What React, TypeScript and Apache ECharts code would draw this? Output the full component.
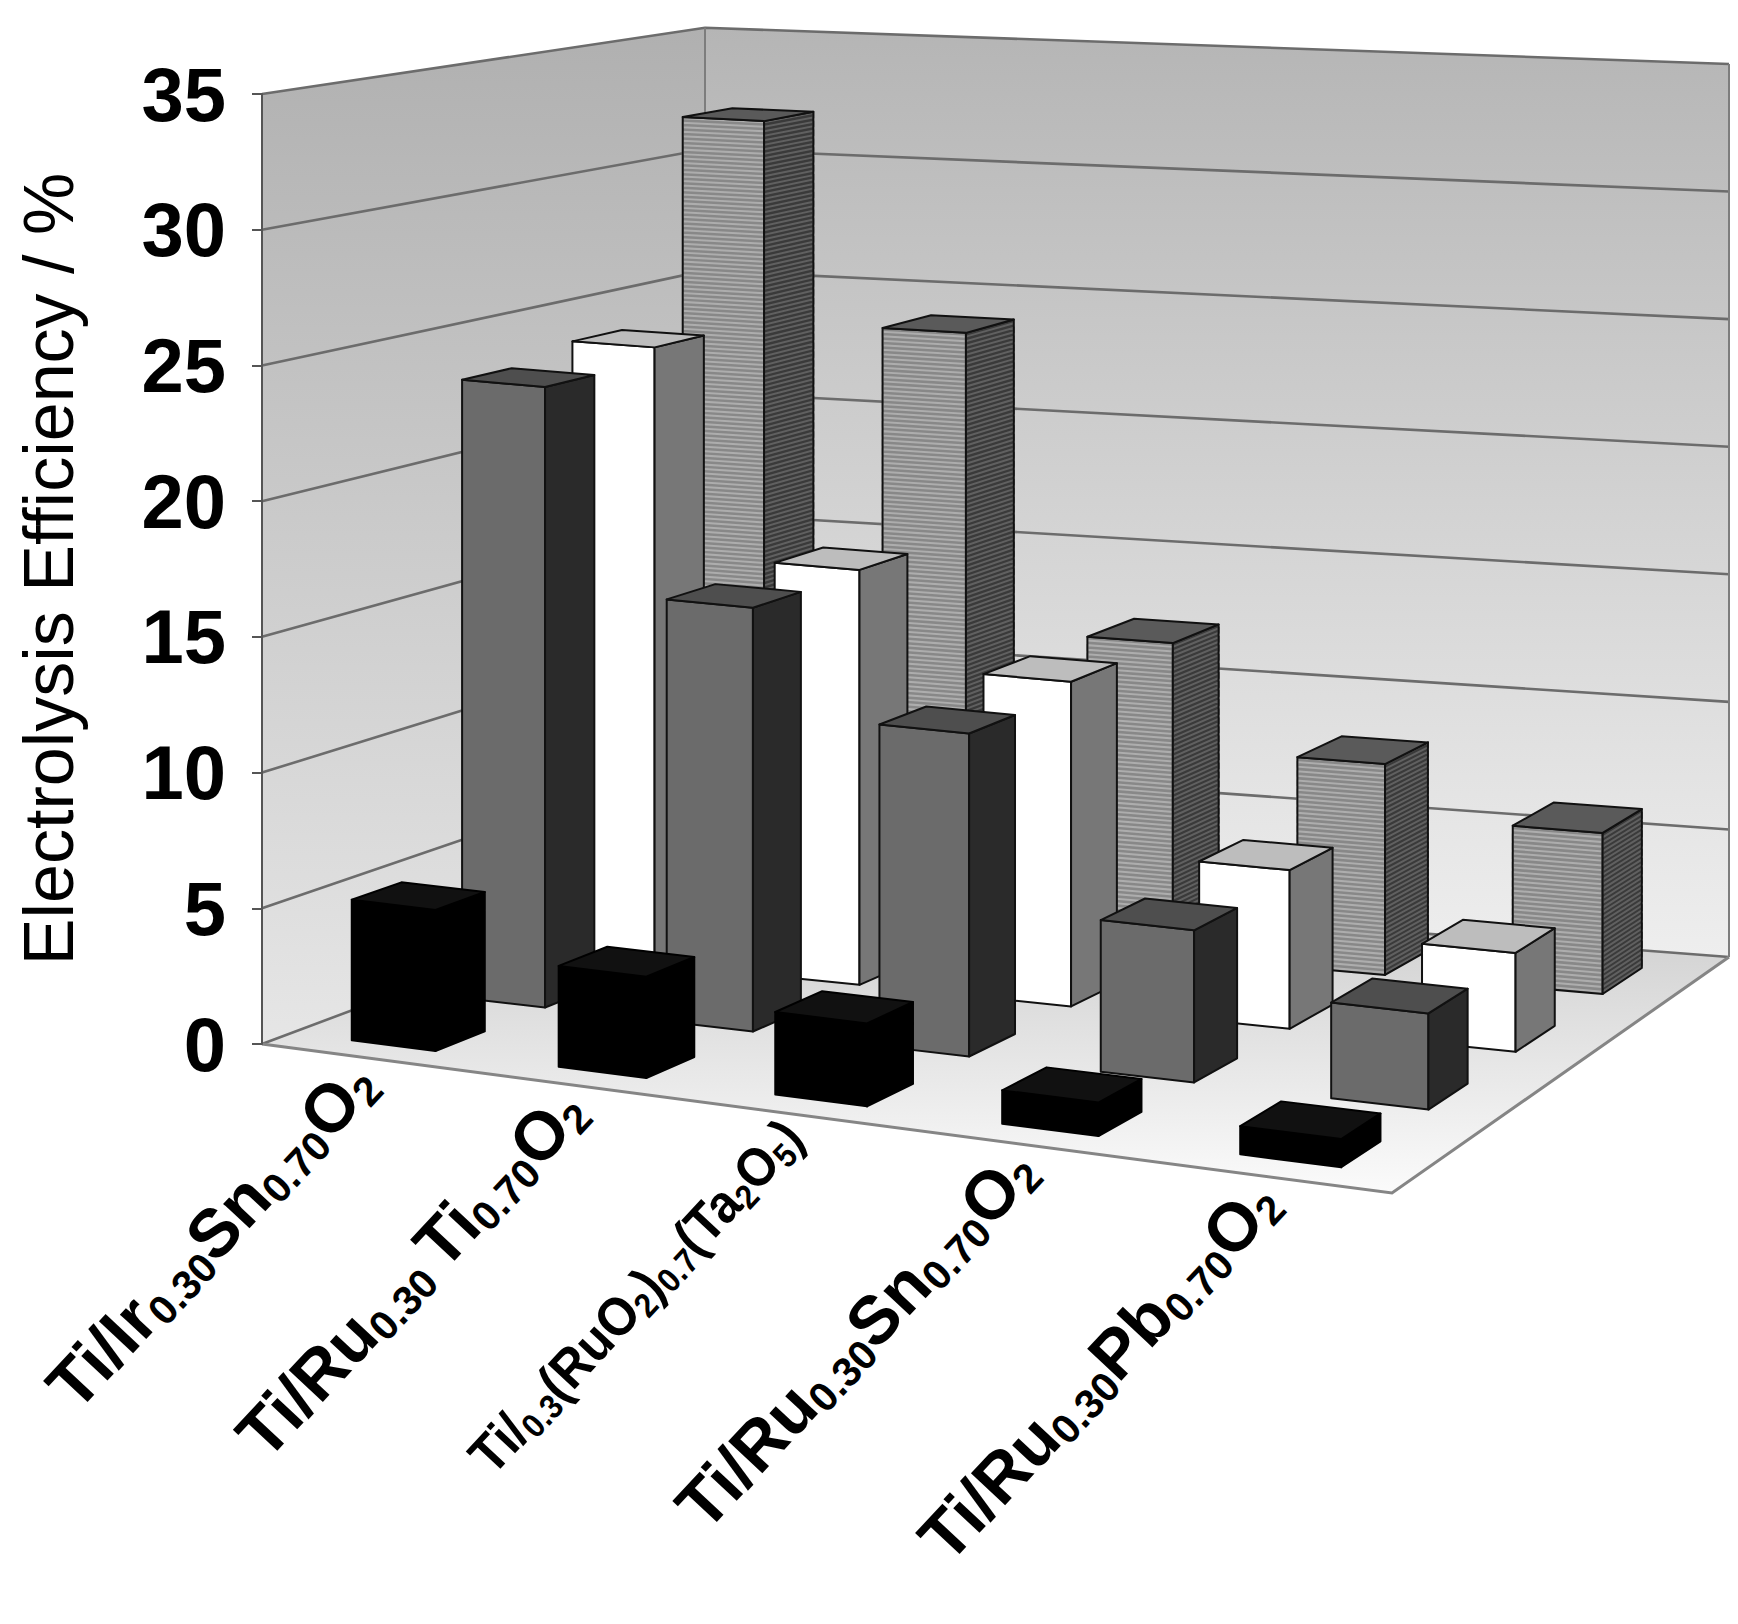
import React, { useEffect, useRef } from "react";
import * as echarts from "echarts";

// ---------------- data ----------------
const CATEGORY_LABELS: [string, string][][] = [
  [["Ti/Ir", "m"], ["0.30", "s"], ["Sn", "m"], ["0.70", "s"], ["O", "m"], ["2", "s"]],
  [["Ti/Ru", "m"], ["0.30 ", "s"], ["Ti", "m"], ["0.70", "s"], ["O", "m"], ["2", "s"]],
  [["Ti/", "n"], ["0.3", "t"], ["(RuO", "n"], ["2", "t"], [")", "n"], ["0.7", "t"], ["(Ta", "n"], ["2", "t"], ["O", "n"], ["5", "t"], [")", "n"]],
  [["Ti/Ru", "m"], ["0.30", "s"], ["Sn", "m"], ["0.70", "s"], ["O", "m"], ["2", "s"]],
  [["Ti/Ru", "m"], ["0.30", "s"], ["Pb", "m"], ["0.70", "s"], ["O", "m"], ["2", "s"]],
];
const SERIES_NAMES = ["Series 1", "Series 2", "Series 3", "Series 4"];
const ROW_FRONT = [5.2, 3.7, 3.0, 1.2, 1.0];
const ROW_SECOND = [23.5, 15.9, 12.0, 5.6, 3.5];
const ROW_THIRD = [24.0, 16.0, 12.4, 6.0, 3.7];
const ROW_BACK = [32.0, 24.0, 12.3, 8.2, 6.2];
const Y_TICKS = [0, 5, 10, 15, 20, 25, 30, 35];
const Y_TITLE = "Electrolysis Efficiency / %";

// ---------------- layout / style ----------------
const N_CAT = 5;
const N_ROWS = 4;
const Y_MAX = 35;
const GRID_LEFT = 262;
const GRID_TOP = 94;
const GRID_W = 1130;
const GRID_H = 950;
const FLOOR_C_Y = 1193;
const FLOOR_B = [705, 878];
const FLOOR_D = [1729, 957];
const K_B = 0.895;
const K_C = 1.05;
const K_D = 0.94;
const Q_FRONT = 1.13;
const Q_BACK = 1.05;
const BAR_W = 0.41;
const BAR_D = 0.45;
const STRIPE_STEP = 0.18;
const LABEL_DX = 0;
const LABEL_DY = 14;
const LABEL_ROT = (47 * Math.PI) / 180;
const LABEL_SCALE_X = [1, 1, 0.92, 1, 1];
const FONT = "'Liberation Sans', Arial, Helvetica, sans-serif";
const FONT_NARROW = "'Liberation Sans Narrow', 'Arial Narrow', 'Liberation Sans', Arial, sans-serif";

type RowStyle = {
  front: string;
  side: string;
  top: string;
  frontStripe?: string;
  sideStripe?: string;
  stroke: string;
};
const ROW_STYLES: RowStyle[] = [
  { front: "#000000", side: "#000000", top: "#111111", stroke: "#000000" },
  { front: "#6b6b6b", side: "#2a2a2a", top: "#4e4e4e", stroke: "#111111" },
  { front: "#ffffff", side: "#777777", top: "#bdbdbd", stroke: "#111111" },
  { front: "#888888", side: "#3a3a3a", top: "#5a5a5a", frontStripe: "#adadad", sideStripe: "#606060", stroke: "#111111" },
];

function projector(api: any) {
  const o = api.coord([0, 0]);
  const cx = api.coord([N_CAT, 0])[0];
  const A = o;
  const C = [cx, FLOOR_C_Y];
  const B = FLOOR_B;
  const D = FLOOR_D;
  const uOf = (pos: number) => (api.coord([pos, 0])[0] - o[0]) / (cx - o[0]);
  const P = (uLin: number, w: number, v: number): number[] => {
    const q = Q_FRONT * (1 - w) + Q_BACK * w;
    const u = uLin / (uLin + (1 - uLin) * q);
    const a = (1 - u) * (1 - w);
    const b = u * (1 - w);
    const c = u * w;
    const d = (1 - u) * w;
    const fx = a * A[0] + b * C[0] + c * D[0] + d * B[0];
    const fy = a * A[1] + b * C[1] + c * D[1] + d * B[1];
    const k = a + b * K_C + c * K_D + d * K_B;
    const h = (o[1] - api.coord([0, v])[1]) * k;
    return [fx, fy - h];
  };
  return { P, uOf };
}

function grad(top: string, bottom: string) {
  return {
    type: "linear",
    x: 0,
    y: 0,
    x2: 0,
    y2: 1,
    colorStops: [
      { offset: 0, color: top },
      { offset: 1, color: bottom },
    ],
  };
}

function renderFrame(_params: any, api: any) {
  const { P } = projector(api);
  const children: any[] = [];
  children.push({
    type: "polygon",
    shape: { points: [P(0, 0, 0), P(1, 0, 0), P(1, 1, 0), P(0, 1, 0)] },
    style: { fill: grad("#c9c9c9", "#fbfbfb"), stroke: "none" },
  });
  children.push({
    type: "polygon",
    shape: { points: [P(0, 0, 0), P(0, 1, 0), P(0, 1, Y_MAX), P(0, 0, Y_MAX)] },
    style: { fill: grad("#b0b0b0", "#e6e6e6"), stroke: "none" },
  });
  children.push({
    type: "polygon",
    shape: { points: [P(0, 1, 0), P(1, 1, 0), P(1, 1, Y_MAX), P(0, 1, Y_MAX)] },
    style: { fill: grad("#b5b5b5", "#eeeeee"), stroke: "none" },
  });
  for (const t of Y_TICKS) {
    children.push({
      type: "polyline",
      shape: { points: [P(0, 0, t), P(0, 1, t), P(1, 1, t)] },
      style: { stroke: "#6c6c6c", lineWidth: 2.6, fill: null },
    });
  }
  const edge = { stroke: "#7d7d7d", lineWidth: 2, fill: null };
  children.push({ type: "polyline", shape: { points: [P(0, 1, 0), P(0, 1, Y_MAX)] }, style: edge });
  children.push({ type: "polyline", shape: { points: [P(1, 1, 0), P(1, 1, Y_MAX)] }, style: edge });
  children.push({
    type: "polyline",
    shape: { points: [P(0, 0, 0), P(1, 0, 0), P(1, 1, 0)] },
    style: { stroke: "#858585", lineWidth: 3, fill: null },
  });
  return { type: "group", children };
}

function stripePoints(P: any, uA: number, wA: number, uB: number, wB: number, v: number) {
  const pts: number[][] = [];
  let k = 0;
  for (let t = STRIPE_STEP / 2; t < v; t += STRIPE_STEP, k++) {
    const p1 = P(uA, wA, t);
    const p2 = P(uB, wB, t);
    if (k % 2 === 0) pts.push(p1, p2);
    else pts.push(p2, p1);
  }
  return pts;
}

function makeBarRenderer(row: number) {
  const st = ROW_STYLES[row];
  return (_params: any, api: any) => {
    const i = api.value(0);
    const v = api.value(1);
    const { P, uOf } = projector(api);
    const u0 = uOf(i + 0.5 - BAR_W / 2);
    const u1 = uOf(i + 0.5 + BAR_W / 2);
    const w0 = (row + 0.5 - BAR_D / 2) / N_ROWS;
    const w1 = (row + 0.5 + BAR_D / 2) / N_ROWS;
    const front = [P(u0, w0, 0), P(u1, w0, 0), P(u1, w0, v), P(u0, w0, v)];
    const side = [P(u1, w0, 0), P(u1, w1, 0), P(u1, w1, v), P(u1, w0, v)];
    const top = [P(u0, w0, v), P(u1, w0, v), P(u1, w1, v), P(u0, w1, v)];
    const outline = { stroke: st.stroke, lineWidth: 2, lineJoin: "round" };
    const children: any[] = [];
    children.push({ type: "polygon", shape: { points: front }, style: { fill: st.front, stroke: "none" } });
    if (st.frontStripe) {
      children.push({
        type: "polyline",
        shape: { points: stripePoints(P, u0, w0, u1, w0, v) },
        style: { stroke: st.frontStripe, lineWidth: 2, fill: null },
      });
    }
    children.push({ type: "polygon", shape: { points: front }, style: { fill: "none", ...outline } });
    children.push({ type: "polygon", shape: { points: side }, style: { fill: st.side, stroke: "none" } });
    if (st.sideStripe) {
      children.push({
        type: "polyline",
        shape: { points: stripePoints(P, u1, w0, u1, w1, v) },
        style: { stroke: st.sideStripe, lineWidth: 2, fill: null },
      });
    }
    children.push({ type: "polygon", shape: { points: side }, style: { fill: "none", ...outline } });
    children.push({ type: "polygon", shape: { points: top }, style: { fill: st.top, ...outline } });
    return { type: "group", children };
  };
}

const RICH = {
  m: { fontSize: 68, fontWeight: "bold", fontFamily: FONT, lineHeight: 74, fill: "#000" },
  s: { fontSize: 41, fontWeight: "bold", fontFamily: FONT, lineHeight: 41, verticalAlign: "bottom", fill: "#000" },
  n: { fontSize: 54, fontWeight: "bold", fontFamily: FONT_NARROW, lineHeight: 60, fill: "#000" },
  t: { fontSize: 34, fontWeight: "bold", fontFamily: FONT_NARROW, lineHeight: 34, verticalAlign: "bottom", fill: "#000" },
};

function richLabel(i: number) {
  return CATEGORY_LABELS[i].map(([txt, key]) => `{${key}|${txt}}`).join("");
}

function renderLabel(_params: any, api: any) {
  const i = api.value(0);
  const { P, uOf } = projector(api);
  const p = P(uOf(i + 0.5), 0, 0);
  return {
    type: "text",
    x: p[0] + LABEL_DX,
    y: p[1] + LABEL_DY,
    rotation: LABEL_ROT,
    scaleX: LABEL_SCALE_X[i],
    style: {
      text: richLabel(i),
      rich: RICH,
      align: "right",
      verticalAlign: "middle",
    },
  };
}

function buildOption() {
  const rows = [ROW_FRONT, ROW_SECOND, ROW_THIRD, ROW_BACK];
  const barSeries: any[] = [];
  for (let r = N_ROWS - 1; r >= 0; r--) {
    barSeries.push({
      type: "custom",
      name: SERIES_NAMES[r],
      coordinateSystem: "cartesian2d",
      renderItem: makeBarRenderer(r),
      data: rows[r].map((val, i) => [i, val]),
      z: 2,
      silent: true,
    });
  }
  return {
    animation: false,
    backgroundColor: "#ffffff",
    grid: { left: GRID_LEFT, top: GRID_TOP, width: GRID_W, height: GRID_H },
    xAxis: { type: "value", min: 0, max: N_CAT, show: false },
    yAxis: {
      type: "value",
      min: 0,
      max: Y_MAX,
      interval: 5,
      z: 10,
      name: Y_TITLE,
      nameLocation: "middle",
      nameRotate: 90,
      nameGap: 178,
      nameTextStyle: { fontSize: 70, fontFamily: FONT, color: "#000" },
      axisLine: { show: true, lineStyle: { color: "#555555", width: 2 } },
      axisTick: { show: true, inside: false, length: 10, lineStyle: { color: "#555555", width: 2 } },
      axisLabel: { fontSize: 76, fontWeight: "bold", fontFamily: FONT_NARROW, color: "#000", margin: 36 },
      splitLine: { show: false },
    },
    series: [
      {
        type: "custom",
        name: "frame",
        coordinateSystem: "cartesian2d",
        renderItem: renderFrame,
        data: [[0, 0]],
        z: 1,
        silent: true,
      },
      ...barSeries,
      {
        type: "custom",
        name: "labels",
        coordinateSystem: "cartesian2d",
        renderItem: renderLabel,
        data: CATEGORY_LABELS.map((_, i) => [i, 0]),
        z: 3,
        silent: true,
      },
    ],
  };
}

export default function App() {
  const ref = useRef<HTMLDivElement>(null);
  useEffect(() => {
    document.body.style.margin = "0";
    const chart = echarts.init(ref.current as HTMLDivElement, undefined, { renderer: "svg" });
    chart.setOption(buildOption() as any);
    return () => chart.dispose();
  }, []);
  return <div ref={ref} style={{ width: 1738, height: 1624 }} />;
}
